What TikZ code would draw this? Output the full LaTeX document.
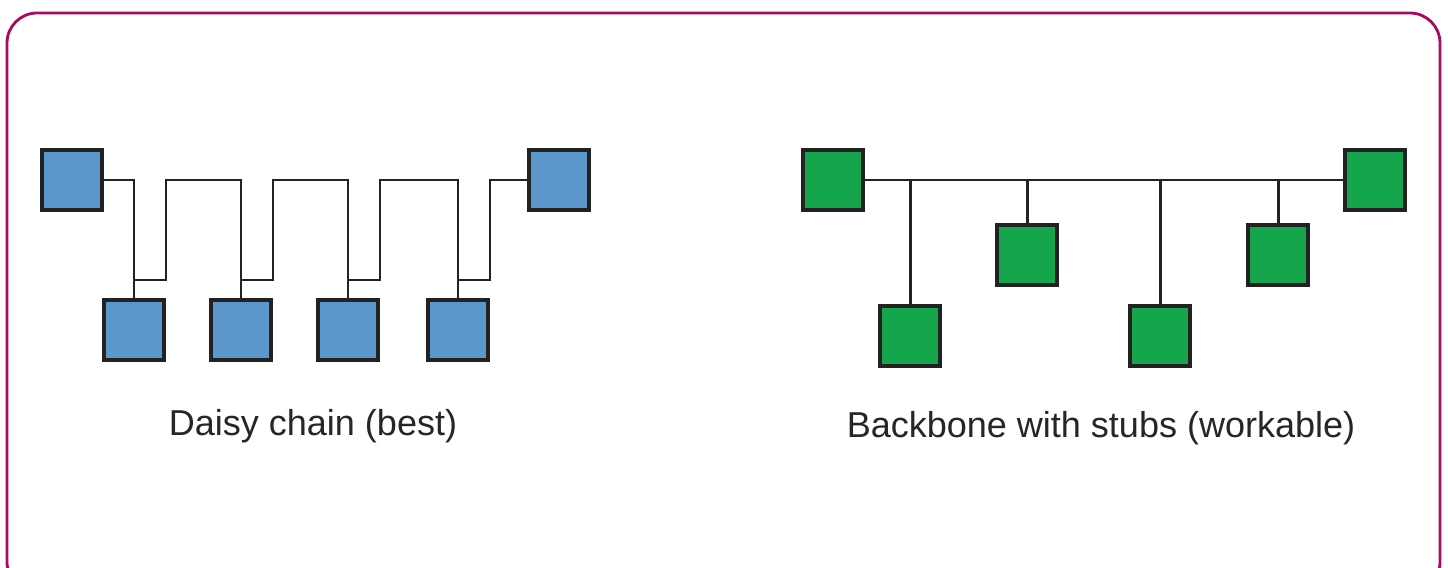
\documentclass[tikz,border=0pt]{standalone}
\usepackage{fontspec}
\setmainfont{Liberation Sans}
\usetikzlibrary{calc}
\definecolor{framepink}{HTML}{A80A60}
\definecolor{daisyblue}{HTML}{5B96CC}
\definecolor{stubgreen}{HTML}{15A64D}
\definecolor{wiregray}{HTML}{222222}

\begin{document}
\begin{tikzpicture}[x=0.02cm, y=-0.02cm,
		unit/.style={draw=wiregray, line width=2pt, minimum size=1.21cm, inner sep=0pt},
		daisyunit/.style={unit, fill=daisyblue},
		stubunit/.style={unit, fill=stubgreen},
		wire/.style={draw=wiregray, line width=1.7pt},
		caption/.style={anchor=base, text=black!85, font=\fontsize{20.5}{24}\selectfont}]
			%%%%% START %%%%%
			
			\useasboundingbox (0, 0) rectangle (1448, 568);
			\clip (0, 0) rectangle (1448, 568);
			\draw[framepink, line width=1.6pt, rounded corners=0.6cm] (7, 13) rectangle (1440, 592);
			
			% daisy chain
			\node[daisyunit] (d1) at (72, 180) {};
			\node[daisyunit] (d2) at (134, 330) {};
			\node[daisyunit] (d3) at (241, 330) {};
			\node[daisyunit] (d4) at (348, 330) {};
			\node[daisyunit] (d5) at (458, 330) {};
			\node[daisyunit] (d6) at (559, 180) {};
			
			\draw[wire] (d1.east) -| (d2.north);
			\foreach \a/\b in {d2/d3, d3/d4, d4/d5}
				\draw[wire] ($(\a.north)+(0, -18)$) -| (\a.east |- d1.east) -| (\b.north);
			\draw[wire] ($(d5.north)+(0, -18)$) -| (d5.east |- d6.west) -- (d6.west);
			
			\node[caption] (daisycap) at (313, 435) {Daisy chain (best)};
			
			% backbone with stubs
			\node[stubunit] (b1) at (833, 180) {};
			\node[stubunit] (b2) at (910, 336) {};
			\node[stubunit] (b3) at (1027, 255) {};
			\node[stubunit] (b4) at (1160, 336) {};
			\node[stubunit] (b5) at (1278, 255) {};
			\node[stubunit] (b6) at (1375, 180) {};
			
			\draw[wire] (b1.east) -- (b6.west);
			\foreach \n in {b2, b3, b4, b5}
				\draw[wire] (\n.north) -- (\n.north |- b1.east);
			
			\node[caption] (stubcap) at (1101, 437) {Backbone with stubs (workable)};
			
			%%%%% END %%%%%
		\end{tikzpicture}
\end{document}
